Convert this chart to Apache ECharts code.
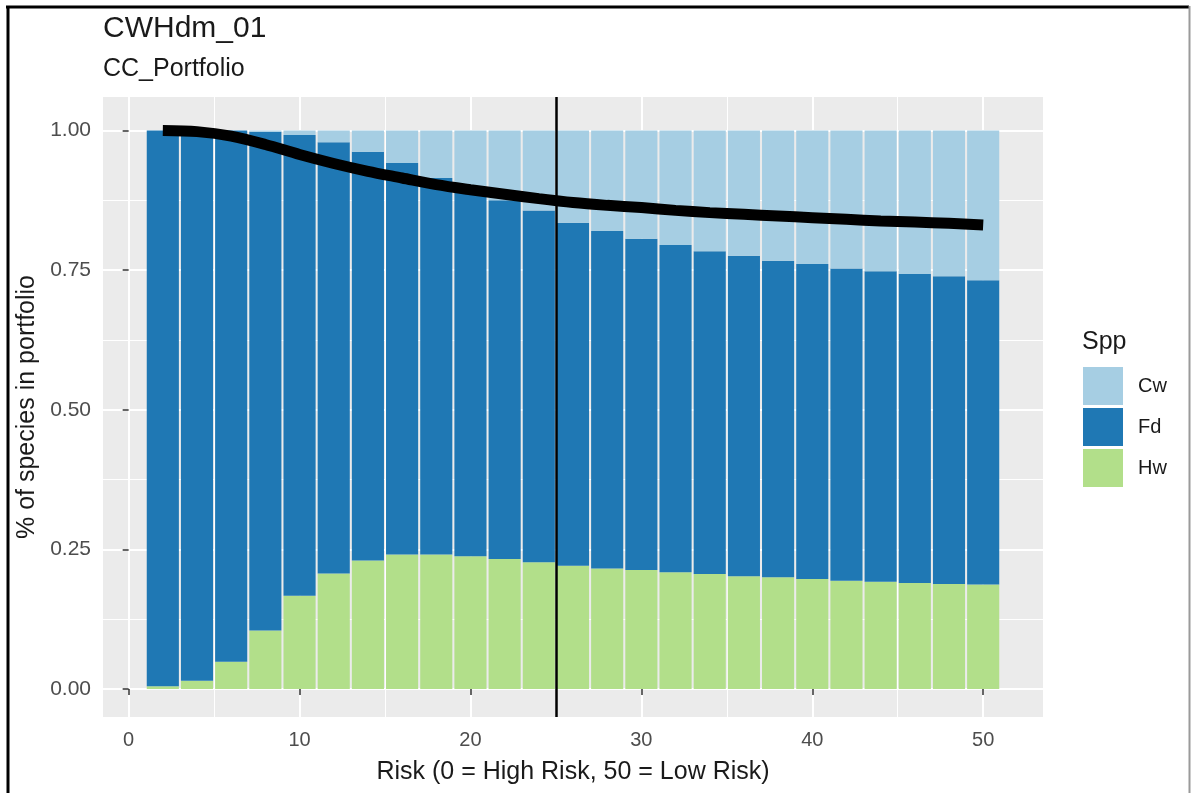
<!DOCTYPE html>
<html>
<head>
<meta charset="utf-8">
<script src="https://cdn.jsdelivr.net/npm/echarts@6/dist/echarts.min.js"></script>
<style>
  html, body { margin: 0; padding: 0; background: #ffffff; }
  #chart { width: 1191px; height: 793px; }
</style>
</head>
<body>
<div id="chart"></div>
<script>
// Risk levels (bar centres) and species shares per level
const risk = [2, 4, 6, 8, 10, 12, 14, 16, 18, 20, 22, 24, 26, 28, 30, 32, 34, 36, 38, 40, 42, 44, 46, 48, 50];
const hw = [0.005, 0.015, 0.049, 0.105, 0.167, 0.207, 0.230, 0.241, 0.241, 0.238, 0.233, 0.227, 0.221,
            0.216, 0.213, 0.209, 0.206, 0.202, 0.200, 0.197, 0.194, 0.192, 0.190, 0.188, 0.187];
const fd = [0.995, 0.985, 0.951, 0.893, 0.825, 0.772, 0.732, 0.701, 0.674, 0.655, 0.642, 0.630, 0.614,
            0.604, 0.593, 0.586, 0.578, 0.574, 0.567, 0.564, 0.559, 0.556, 0.553, 0.551, 0.545];
const cw = [0.000, 0.000, 0.000, 0.002, 0.008, 0.021, 0.038, 0.058, 0.085, 0.107, 0.125, 0.143, 0.165,
            0.180, 0.194, 0.205, 0.216, 0.224, 0.233, 0.239, 0.247, 0.252, 0.257, 0.261, 0.268];
// Portfolio curve
const portfolio = [1.000, 0.998, 0.990, 0.975, 0.957, 0.941, 0.927, 0.915, 0.903, 0.894, 0.886, 0.878, 0.871,
                   0.866, 0.862, 0.857, 0.853, 0.850, 0.847, 0.844, 0.841, 0.838, 0.836, 0.834, 0.831];
const thresholdRisk = 25;

// Axis ticks
const xTicks = [0, 10, 20, 30, 40, 50];
const xMinorTicks = [5, 15, 25, 35, 45];
const yTicks = [0, 0.25, 0.5, 0.75, 1];
const yMinorTicks = [0.125, 0.375, 0.625, 0.875];

const speciesNames = ['Cw', 'Fd', 'Hw'];
const speciesColors = { Cw: '#A6CEE3', Fd: '#1F78B4', Hw: '#B2DF8A' };

const FONT = "'Liberation Sans', Arial, sans-serif";
const TEXT = '#1a1a1a';
const TICKTEXT = '#4D4D4D';

// Panel geometry: the continuous x scale spans X_MIN..X_MAX; bars (width 2 each)
// cover RISK_LO..RISK_HI and live in an overlaid grid with a band (category) axis.
const PANEL = { left: 103, right: 148, top: 97, bottom: 76, width: 1191 - 103 - 148 };
const X_MIN = -1.5, X_MAX = 53.5;
const Y_MIN = -0.05, Y_MAX = 1.06;
const RISK_LO = 1, RISK_HI = 51;
const pxPerUnit = PANEL.width / (X_MAX - X_MIN);
const barGrid = {
  left: PANEL.left + (RISK_LO - X_MIN) * pxPerUnit,
  right: PANEL.right + (X_MAX - RISK_HI) * pxPerUnit,
  top: PANEL.top,
  bottom: PANEL.bottom
};

const chart = echarts.init(document.getElementById('chart'), null, { renderer: 'canvas' });

const barSeries = (name, vals) => ({
  name: name,
  type: 'bar',
  stack: 'spp',
  xAxisIndex: 2,
  yAxisIndex: 2,
  barCategoryGap: '6%',
  data: vals,
  itemStyle: { color: speciesColors[name] },
  z: 2
});

const hiddenAxisParts = {
  axisLine: { show: false },
  axisTick: { show: false },
  axisLabel: { show: false },
  splitLine: { show: false }
};

chart.setOption({
  animation: false,
  backgroundColor: '#ffffff',
  textStyle: { fontFamily: FONT },
  title: [
    { text: 'CWHdm_01', left: 103, top: 14, padding: 0,
      textStyle: { fontSize: 30, fontWeight: 'normal', color: TEXT, lineHeight: 30, fontFamily: FONT } },
    { text: 'CC_Portfolio', left: 103, top: 57, padding: 0,
      textStyle: { fontSize: 25, fontWeight: 'normal', color: TEXT, lineHeight: 25, fontFamily: FONT } },
    { text: 'Spp', left: 1082, top: 330, padding: 0,
      textStyle: { fontSize: 25, fontWeight: 'normal', color: TEXT, lineHeight: 25, fontFamily: FONT } }
  ],
  legend: {
    data: speciesNames,
    orient: 'vertical',
    left: 1083,
    top: 367,
    padding: 0,
    itemWidth: 40,
    itemHeight: 38,
    itemGap: 3,
    icon: 'rect',
    selectedMode: false,
    textStyle: { fontSize: 20, color: TEXT, fontFamily: FONT, padding: [0, 0, 0, 10] }
  },
  grid: [
    { left: PANEL.left, right: PANEL.right, top: PANEL.top, bottom: PANEL.bottom,
      show: true, backgroundColor: '#EBEBEB', borderWidth: 0 },
    { left: barGrid.left, right: barGrid.right, top: barGrid.top, bottom: barGrid.bottom,
      show: false }
  ],
  xAxis: [
    {
      gridIndex: 0, type: 'value', min: X_MIN, max: X_MAX,
      name: 'Risk (0 = High Risk, 50 = Low Risk)',
      nameLocation: 'middle', nameGap: 43,
      nameTextStyle: { fontSize: 25, color: TEXT, fontFamily: FONT },
      axisLine: { show: false },
      axisTick: { show: true, length: 6, customValues: xTicks, lineStyle: { color: '#333333', width: 1.5 } },
      axisLabel: { customValues: xTicks, fontSize: 20, color: TICKTEXT, margin: 13, fontFamily: FONT },
      splitLine: { show: true, lineStyle: { color: '#ffffff', width: 2 } }
    },
    {
      gridIndex: 0, type: 'value', min: X_MIN, max: X_MAX,
      axisLine: { show: false },
      axisTick: { show: false, customValues: xMinorTicks },
      axisLabel: { show: false, customValues: xMinorTicks },
      splitLine: { show: true, lineStyle: { color: '#ffffff', width: 1 } }
    },
    Object.assign({ gridIndex: 1, type: 'category', data: risk, boundaryGap: true }, hiddenAxisParts)
  ],
  yAxis: [
    {
      gridIndex: 0, type: 'value', min: Y_MIN, max: Y_MAX,
      name: '% of species in portfolio',
      nameLocation: 'middle', nameGap: 62,
      nameTextStyle: { fontSize: 25, color: TEXT, fontFamily: FONT },
      axisLine: { show: false },
      axisTick: { show: true, length: 6, customValues: yTicks, lineStyle: { color: '#333333', width: 1.5 } },
      axisLabel: { customValues: yTicks, fontSize: 21, color: TICKTEXT, margin: 12, fontFamily: FONT,
                   formatter: v => Number(v).toFixed(2) },
      splitLine: { show: true, lineStyle: { color: '#ffffff', width: 2 } }
    },
    {
      gridIndex: 0, type: 'value', min: Y_MIN, max: Y_MAX,
      axisLine: { show: false },
      axisTick: { show: false, customValues: yMinorTicks },
      axisLabel: { show: false, customValues: yMinorTicks },
      splitLine: { show: true, lineStyle: { color: '#ffffff', width: 1 } }
    },
    Object.assign({ gridIndex: 1, type: 'value', min: Y_MIN, max: Y_MAX }, hiddenAxisParts)
  ],
  series: [
    barSeries('Hw', hw),
    barSeries('Fd', fd),
    barSeries('Cw', cw),
    {
      type: 'line',
      xAxisIndex: 0,
      yAxisIndex: 0,
      data: risk.map((x, i) => [x, portfolio[i]]),
      showSymbol: false,
      smooth: 0.3,
      lineStyle: { color: '#000000', width: 11, cap: 'butt' },
      itemStyle: { color: '#000000' },
      z: 4,
      markLine: {
        silent: true,
        symbol: ['none', 'none'],
        label: { show: false },
        lineStyle: { color: '#000000', width: 2.5, type: 'solid' },
        data: [{ xAxis: thresholdRisk }]
      }
    }
  ],
  graphic: [
    { type: 'line', shape: { x1: 6, y1: 7, x2: 1189, y2: 7 }, style: { stroke: '#000000', lineWidth: 3 }, z: 100 },
    { type: 'line', shape: { x1: 8, y1: 6, x2: 8, y2: 793 }, style: { stroke: '#000000', lineWidth: 3 }, z: 100 },
    { type: 'line', shape: { x1: 1189.5, y1: 6, x2: 1189.5, y2: 793 }, style: { stroke: '#9a9a9a', lineWidth: 2 }, z: 100 }
  ]
});
</script>
</body>
</html>
